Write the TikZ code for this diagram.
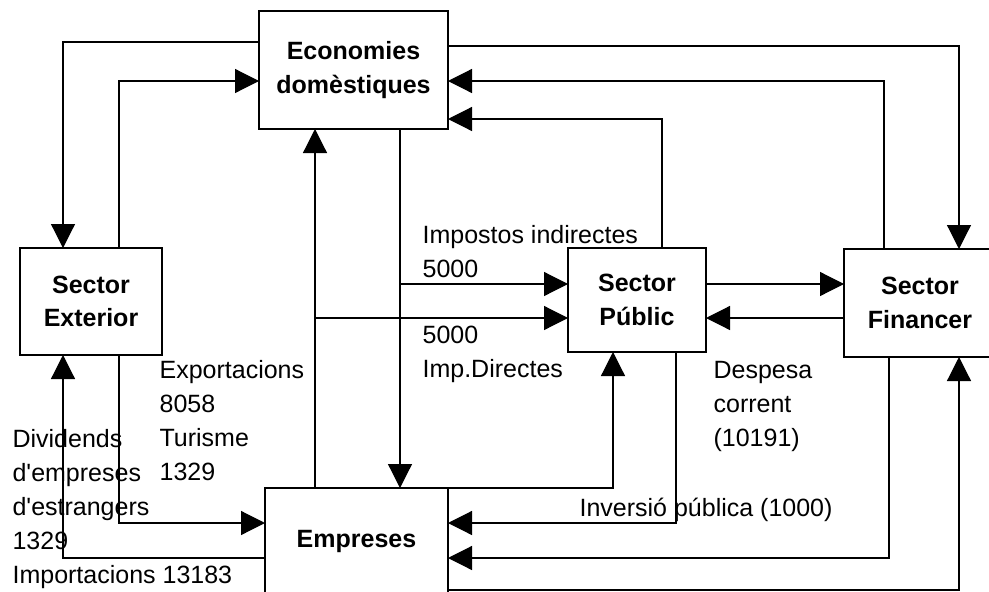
\documentclass[tikz,border=0pt]{standalone}
\usepackage{fontspec}
\setmainfont{Liberation Sans}
\usetikzlibrary{arrows.meta}
\begin{document}
\begin{tikzpicture}[x=1pt,y=-1pt,
  line width=1.2pt,
  box/.style={draw, inner sep=0pt, outer sep=0pt, align=center,
    font=\fontsize{25}{33.5}\selectfont\bfseries},
  arr/.style={-{Triangle[length=24pt,width=24pt]}},
  lbl/.style={anchor=base west, inner sep=0pt,
    font=\fontsize{25}{34}\selectfont}]
\useasboundingbox (0,0) rectangle (989,592);
\begin{scope}
\clip (0,0) rectangle (989,592);
\node[box, minimum width=189pt, minimum height=118pt] (econ) at (353.5,70) {Economies\\domèstiques};
\node[box, minimum width=142pt, minimum height=107pt] (ext) at (91,301.5) {Sector\\Exterior};
\node[box, minimum width=138pt, minimum height=104pt] (pub) at (637,300) {Sector\\Públic};
\node[box, minimum width=152pt, minimum height=108pt] (fin) at (920,303) {Sector\\Financer};
\node[box, minimum width=183pt, minimum height=107pt] (emp) at (356.5,541.5) {Empreses};
\end{scope}
\coordinate (j1) at (400,284);
\coordinate (j2) at (315,318);
% connectors
\draw[arr] (econ.west |- 0,42) -| (63,0 |- ext.north);
\draw[arr] (ext.north -| 119,0) |- (econ.west |- 0,81);
\draw[arr] (econ.east |- 0,46) -| (959,0 |- fin.north);
\draw[arr] (fin.north -| 884,0) |- (econ.east |- 0,81);
\draw[arr] (pub.north -| 662,0) |- (econ.east |- 0,119);
\draw[arr] (econ.south -| 400,0) -- (emp.north -| 400,0);
\draw[arr] (emp.north -| 315,0) -- (econ.south -| 315,0);
\draw[arr] (j1) -- (pub.west |- j1);
\draw[arr] (j2) -- (pub.west |- j2);
\draw[arr] (pub.east |- 0,284) -- (fin.west |- 0,284);
\draw[arr] (fin.west |- 0,318) -- (pub.east |- 0,318);
\draw[arr] (emp.north east) -| (pub.south -| 613,0);
\draw[arr] (pub.south -| 676,0) |- (emp.east |- 0,523);
\draw[arr] (fin.south -| 889,0) |- (emp.east |- 0,558);
\draw[arr] (emp.east |- 0,590) -| (fin.south -| 959,0);
\draw[arr] (ext.south -| 119,0) |- (emp.west |- 0,523);
\draw[arr] (emp.west |- 0,558) -| (ext.south -| 63,0);
% labels
\node[lbl] (l1) at (422,243) {\begin{tabular}[t]{@{}l@{}}Impostos indirectes\\5000\end{tabular}};
\node[lbl] (l2) at (422,343) {\begin{tabular}[t]{@{}l@{}}5000\\Imp.Directes\end{tabular}};
\node[lbl] (l3) at (159,378) {\begin{tabular}[t]{@{}l@{}}Exportacions\\8058\\Turisme\\1329\end{tabular}};
\node[lbl] (l4) at (12,447) {\begin{tabular}[t]{@{}l@{}}Dividends\\d\textquotesingle empreses\\d\textquotesingle estrangers\\1329\\Importacions 13183\end{tabular}};
\node[lbl] (l5) at (713,378) {\begin{tabular}[t]{@{}l@{}}Despesa\\corrent\\(10191)\end{tabular}};
\node[lbl] (l6) at (579,516) {Inversió pública (1000)};
\end{tikzpicture}
\end{document}
